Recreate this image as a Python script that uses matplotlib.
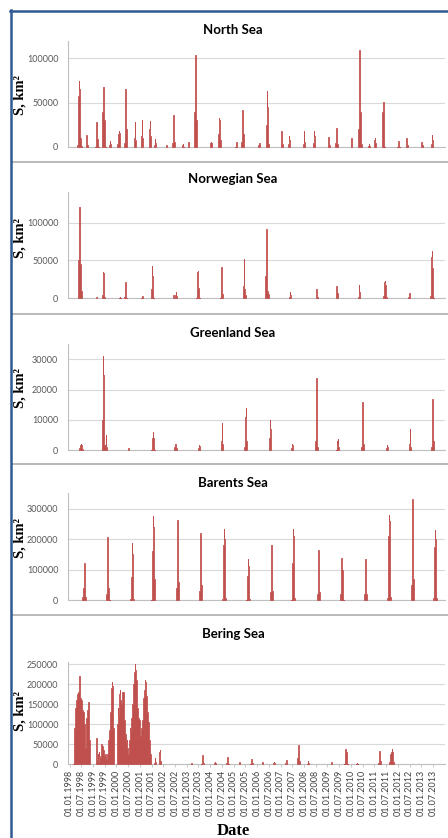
import numpy as np
import matplotlib
matplotlib.use("Agg")
import matplotlib.pyplot as plt
from matplotlib.lines import Line2D

# 8-day composites, values in thousands of km2
# each event: (decimal year of the peak, consecutive 8-day values)
STEP = 8 / 365.25

north_events = [
    (1998.41, [2, 8, 58, 75, 66, 30, 10, 3, 1]),
    (1998.73, [3, 14, 6, 2]),
    (1999.16, [4, 18, 28, 10, 9, 3]),
    (1999.44, [5, 40, 68, 55, 30, 12, 4]),
    (1999.73, [2, 7, 3]),
    (2000.11, [3, 8, 15, 18, 16, 6]),
    (2000.38, [5, 36, 66, 62, 20, 6]),
    (2000.79, [3, 10, 28, 8, 2]),
    (2001.10, [3, 12, 31, 10, 3]),
    (2001.43, [4, 20, 29, 12, 4]),
    (2001.65, [2, 9, 4]),
    (2002.14, [1, 2, 1]),
    (2002.44, [4, 25, 36, 20, 6]),
    (2002.83, [2, 3, 2]),
    (2003.07, [2, 6, 3]),
    (2003.38, [6, 40, 90, 104, 80, 30, 8]),
    (2004.03, [2, 5, 6, 4, 3]),
    (2004.38, [5, 15, 33, 31, 20, 8, 3]),
    (2005.13, [2, 4, 6, 3]),
    (2005.37, [6, 30, 42, 38, 15, 4]),
    (2006.08, [2, 4, 4, 2]),
    (2006.43, [5, 25, 63, 45, 12, 3]),
    (2007.05, [3, 18, 8, 3]),
    (2007.36, [3, 12, 8, 2]),
    (2008.00, [3, 18, 6, 4]),
    (2008.43, [4, 18, 12, 3]),
    (2009.04, [3, 11, 5, 2]),
    (2009.39, [4, 15, 22, 10, 3]),
    (2010.03, [3, 10, 4]),
    (2010.36, [6, 20, 85, 109, 80, 40, 10, 3]),
    (2010.77, [1, 3, 1]),
    (2011.03, [3, 8, 10, 4]),
    (2011.38, [4, 40, 51, 15, 3]),
    (2012.02, [3, 7, 6, 3]),
    (2012.38, [3, 10, 6, 2]),
    (2013.02, [2, 6, 4, 2]),
    (2013.45, [3, 13, 8, 2]),
]

norwegian_events = [
    (1998.42, [5, 50, 108, 120, 84, 45, 44, 10, 2]),
    (1999.16, [1, 2, 1]),
    (1999.43, [2, 5, 35, 34, 5, 2]),
    (2000.15, [1, 2, 1]),
    (2000.38, [2, 8, 21, 6, 1]),
    (2001.10, [1, 3, 3, 2]),
    (2001.51, [3, 12, 42, 30, 10, 3]),
    (2002.43, [2, 5, 3]),
    (2002.54, [4, 8, 3]),
    (2003.49, [3, 10, 35, 36, 14, 4]),
    (2004.49, [2, 12, 41, 28, 6, 2]),
    (2005.44, [3, 16, 52, 12, 10, 4]),
    (2006.41, [4, 30, 80, 92, 60, 10, 6, 2]),
    (2007.40, [2, 8, 5, 2]),
    (2008.54, [2, 12, 6, 2]),
    (2009.39, [3, 16, 10, 7, 3]),
    (2010.35, [2, 17, 8, 2]),
    (2011.45, [3, 15, 22, 23, 18, 8, 2]),
    (2012.49, [2, 5, 7, 3]),
    (2013.45, [3, 20, 55, 62, 40, 10, 2]),
]

greenland_events = [
    (1998.49, [0.5, 1.2, 1.8, 2.1, 1.5, 0.8, 0.3]),
    (1999.43, [1, 10, 31, 25, 10, 1.5, 1, 1.5, 5, 1]),
    (2000.51, [0.3, 0.5, 0.4]),
    (2001.57, [1, 3, 4, 6, 4, 1]),
    (2002.50, [1, 2, 2, 1.5, 0.5]),
    (2003.52, [0.5, 1.5, 1.2, 0.5]),
    (2004.50, [1, 3, 9, 2, 0.5]),
    (2005.53, [1, 3, 11, 14, 3, 1]),
    (2006.55, [1, 4, 10, 7, 1]),
    (2007.48, [0.5, 2, 1.5, 0.5]),
    (2008.54, [1, 3, 17, 24, 8, 1]),
    (2009.46, [1, 3, 2, 3.5, 1]),
    (2010.49, [1, 3, 16, 13, 2]),
    (2011.53, [0.5, 1.5, 1, 0.5]),
    (2012.52, [0.5, 2, 7, 1]),
    (2013.47, [1, 5, 17, 12, 3, 0.5]),
]

barents_events = [
    (1998.63, [2, 10, 40, 100, 120, 60, 10, 2]),
    (1999.63, [3, 20, 110, 207, 180, 40, 5]),
    (2000.67, [2, 15, 75, 188, 150, 30, 4]),
    (2001.57, [5, 30, 160, 275, 240, 70, 10]),
    (2002.60, [5, 40, 200, 262, 220, 60, 8]),
    (2003.58, [4, 30, 150, 220, 190, 50, 6]),
    (2004.59, [4, 40, 180, 232, 200, 40, 5]),
    (2005.62, [3, 20, 80, 135, 110, 30, 4]),
    (2006.62, [3, 25, 130, 180, 150, 30, 4]),
    (2007.54, [4, 30, 120, 232, 210, 60, 6]),
    (2008.61, [3, 20, 100, 163, 140, 25, 3]),
    (2009.61, [3, 20, 80, 137, 100, 20, 3]),
    (2010.63, [3, 20, 90, 133, 100, 20, 3]),
    (2011.62, [5, 40, 210, 280, 260, 80, 10]),
    (2012.62, [6, 50, 240, 330, 290, 70, 8]),
    (2013.59, [5, 40, 175, 230, 200, 60, 6]),
]

bering_events = [
    (1998.42, [10, 50, 90, 130, 140, 160, 170, 175, 165, 180, 200, 220, 190,
               165, 160, 160, 145, 135, 120, 130, 128, 100, 60, 40, 90, 115,
               125, 135, 145, 155, 120, 60, 15]),
    (1999.81, [20, 65, 40, 10, 25, 5, 30, 20, 5, 15, 45, 50, 48, 45, 40, 35,
               25, 20, 25, 15, 12, 15, 25, 40, 60, 80, 85, 100, 130, 160, 190,
               205, 195, 150, 90, 30]),
    (2000.79, [30, 100, 140, 120, 150, 175, 185, 160, 145, 150, 165, 180, 175,
               180, 140, 110, 80, 75, 70, 55, 60, 40, 25, 35, 60, 90, 85, 100,
               115, 120, 150, 175, 200, 215, 230, 250, 235, 225, 210, 170, 140,
               120, 115, 105, 110, 80, 70, 85, 90, 90, 110, 140, 165, 160, 185,
               210, 205, 180, 170, 130, 100, 105, 80, 60, 40, 25, 10]),
    (2001.65, [3, 14, 6, 1]),
    (2001.86, [5, 30, 35, 8, 1]),
    (2003.21, [1, 3, 1]),
    (2003.68, [2, 8, 22, 10, 2]),
    (2004.20, [2, 5, 3, 1]),
    (2004.73, [2, 8, 17, 6, 1]),
    (2005.24, [2, 5, 2]),
    (2005.77, [2, 8, 13, 9, 2]),
    (2006.24, [1, 4, 2]),
    (2006.72, [2, 5, 3, 1]),
    (2007.26, [2, 6, 11, 4]),
    (2007.76, [3, 15, 35, 48, 25, 8, 2]),
    (2008.18, [2, 7, 3]),
    (2009.18, [1, 5, 3]),
    (2009.78, [3, 15, 38, 30, 10, 2]),
    (2010.25, [1, 2, 1]),
    (2011.21, [3, 20, 33, 15, 8, 2]),
    (2011.76, [5, 18, 25, 15, 30, 38, 30, 15, 5, 2]),
]

tick_years = np.arange(1998, 2014)
tick_labels = []
for yr in tick_years:
    tick_labels += ["01.01.%d" % yr, "01.07.%d" % yr]

BAR_COLOR = "#C0504D"
W, H = 448.0, 838.0
X0, X1 = 1997.936, 2014.0

# name, events, ymax, yticks, axes top px, axes bottom px, title y px, ylabel y px
panels = [
    ("North Sea", north_events, 120000, [0, 50000, 100000], 40.7, 147, 29.5, 95),
    ("Norwegian Sea", norwegian_events, 140000, [0, 50000, 100000], 192.3, 298.3, 178.5, 238),
    ("Greenland Sea", greenland_events, 35000, [0, 10000, 20000, 30000], 344.3, 450, 333, 388),
    ("Barents Sea", barents_events, 350000, [0, 100000, 200000, 300000], 493.3, 600, 483, 538),
    ("Bering Sea", bering_events, 256000, [0, 50000, 100000, 150000, 200000, 250000], 661.7, 764, 633.5, 711),
]


def event_xy(peak, vals):
    k = int(np.argmax(vals))
    xs = peak + (np.arange(len(vals)) - k) * STEP
    xs = np.concatenate([[xs[0] - STEP / 2], xs, [xs[-1] + STEP / 2]])
    ys = np.concatenate([[0], np.array(vals) * 1000.0, [0]])
    return xs, ys


fig = plt.figure(figsize=(W / 100, H / 100), dpi=100)

for name, events, ymax, yticks, top, bot, ty, ly in panels:
    ax = fig.add_axes([68 / W, 1 - bot / H, (444.7 - 68) / W, (bot - top) / H])
    for peak, vals in events:
        x, y = event_xy(peak, vals)
        ax.fill_between(x, y, step="mid", color=BAR_COLOR, edgecolor=BAR_COLOR,
                        linewidth=0.55, zorder=3)
    ax.set_xlim(X0, X1)
    ax.set_ylim(0, ymax)
    ax.set_yticks(yticks)
    ax.set_yticklabels([str(t) for t in yticks], family="Lato", fontsize=6.5, color="#595959")
    ax.tick_params(axis="y", length=0, pad=7)
    ax.grid(axis="y", color="#D9D9D9", linewidth=0.8, zorder=0)
    for s in ["top", "right"]:
        ax.spines[s].set_visible(False)
    for s in ["left", "bottom"]:
        ax.spines[s].set_color("#BFBFBF")
        ax.spines[s].set_linewidth(0.8)
    if name == "Bering Sea":
        ax.set_xticks(np.arange(1998, 2014, 0.5))
        ax.set_xticklabels(tick_labels, rotation=90, family="Lato", fontsize=6.5, color="#404040")
        ax.tick_params(axis="x", length=2.5, width=0.6, color="#BFBFBF", pad=1.5)
    else:
        ax.set_xticks([])

    fig.text(233 / W, 1 - ty / H, name, ha="center", va="center",
             family="Lato", fontweight="bold", fontsize=9.5, color="#000000")
    fig.text(20.5 / W, 1 - ly / H, "S, km\u00b2", rotation=90, ha="center", va="center",
             family="Liberation Serif", fontweight="bold", fontsize=10.5)

fig.text(233 / W, 1 - 831 / H, "Date", ha="center", va="center",
         family="Liberation Serif", fontweight="bold", fontsize=12)

# panel separators and outer frame
for yp in [162, 314, 464, 615]:
    fig.add_artist(Line2D([12 / W, 1], [1 - yp / H, 1 - yp / H], color="#A6A6A6", linewidth=1.1))
fig.add_artist(Line2D([10.5 / W, 10.5 / W], [0, 1 - 10 / H], color="#2F5A94", linewidth=1.8))
fig.add_artist(Line2D([9.5 / W, 1], [1 - 11 / H, 1 - 11 / H], color="#2F5A94", linewidth=1.8))

fig.savefig("out.png", dpi=100)
